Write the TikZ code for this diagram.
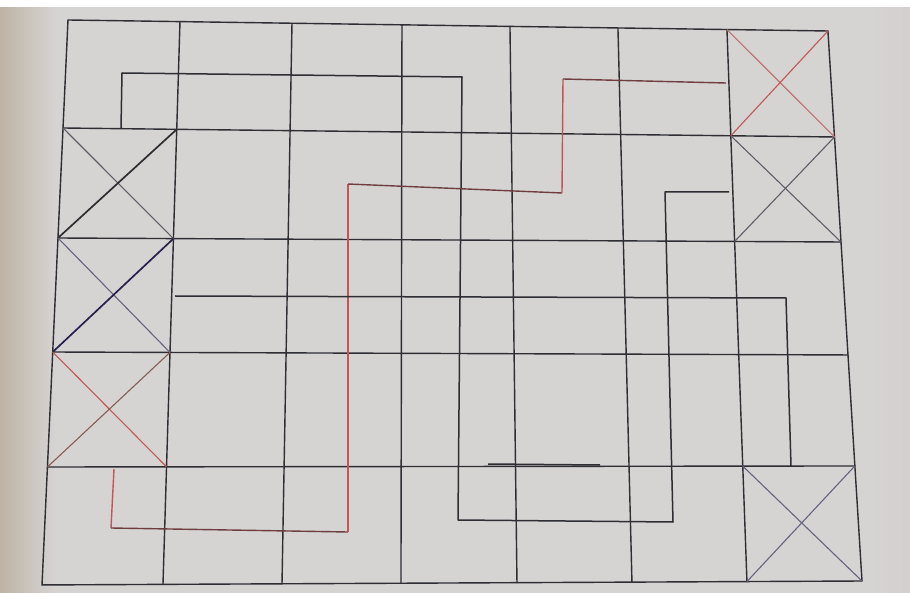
\documentclass[tikz,border=0pt]{standalone}
\usetikzlibrary{calc}
\definecolor{paper}{RGB}{214,211,211}
\definecolor{edgetone}{RGB}{190,180,165}
\definecolor{ink}{RGB}{45,45,50}
\definecolor{softink}{RGB}{95,95,104}
\definecolor{bluish}{RGB}{100,100,128}
\definecolor{navy}{RGB}{38,33,78}
\definecolor{redline}{RGB}{195,85,85}
\definecolor{darkred}{RGB}{110,62,62}
\definecolor{pinkred}{RGB}{190,115,110}
\definecolor{brownish}{RGB}{135,92,82}
\begin{document}
\begin{tikzpicture}[x=1pt,y=-1pt,
  grid/.style={draw=ink, line width=1.4pt, line cap=round},
  mazeline/.style={draw=ink, line width=1.5pt, line join=round},
  redpath/.style={draw=redline, line width=1.4pt},
  redhoriz/.style={draw=darkred, line width=1.4pt},
  thindiag/.style={line width=1.1pt},
  bolddiag/.style={line width=1.7pt}]
\useasboundingbox (0,0) rectangle (910,593);
\fill[paper] (0,0) rectangle (910,593);
\shade[left color=edgetone, right color=paper] (0,0) rectangle (55,593);
\shade[left color=paper, right color=paper!90!edgetone] (865,0) rectangle (910,593);
\fill[white] (0,0) rectangle (910,7);

% column and row guide lines
\foreach \i/\xt/\xb in {0/68/42,1/180/163,2/292/282,3/402/401,4/510/517,5/618/632,6/727/747,7/828/862}{
  \coordinate (T\i) at (\xt,{20+11*\i/7});
  \coordinate (B\i) at (\xb,{585-4*\i/7});
}
\foreach \j/\yl/\yr in {0/20/31,1/128/137,2/238/242,3/352/355,4/467/466,5/585/581}{
  \coordinate (L\j) at ({68-26*\j/5},\yl);
  \coordinate (R\j) at ({828+34*\j/5},\yr);
}
\foreach \i in {0,...,7}{
  \foreach \j in {0,...,5}{
    \coordinate (P\i-\j) at (intersection cs: first line={(T\i)--(B\i)}, second line={(L\j)--(R\j)});
  }
}

% grid
\foreach \j in {0,...,5} \draw[grid] (P0-\j) -- (P7-\j);
\foreach \i in {0,...,7} \draw[grid] (P\i-0) -- (P\i-5);

% crossed cells
\draw[thindiag, draw=pinkred] (P6-0) -- (P7-1);
\draw[thindiag, draw=redline] (P7-0) -- (P6-1);
\draw[thindiag, draw=softink] (P6-1) -- (P7-2);
\draw[thindiag, draw=softink] (P7-1) -- (P6-2);
\draw[thindiag, draw=softink] (P0-1) -- (P1-2);
\draw[bolddiag, draw=ink] (P0-2) -- (P1-1);
\draw[thindiag, draw=bluish] (P0-2) -- (P1-3);
\draw[bolddiag, draw=navy] (P0-3) -- (P1-2);
\draw[thindiag, draw=redline] (P0-3) -- (P1-4);
\draw[thindiag, draw=brownish] (P0-4) -- (P1-3);
\draw[thindiag, draw=bluish] (P6-4) -- (P7-5);
\draw[thindiag, draw=bluish] (P7-4) -- (P6-5);

% black maze path
\coordinate (a0) at (121,128);
\coordinate (a1) at (122,73);
\coordinate (a2) at (462,77);
\coordinate (a3) at (458,520);
\coordinate (a4) at (673,522);
\coordinate (a5) at (665,192);
\coordinate (a6) at (729,192);
\draw[mazeline] (a0) -- (a1) -- (a2) -- (a3) -- (a4) -- (a5) -- (a6);

% red maze path
\coordinate (b0) at (114,469);
\coordinate (b1) at (111,528);
\coordinate (b2) at (348,532);
\coordinate (b3) at (348,184);
\coordinate (b4) at (562,193);
\coordinate (b5) at (563,79);
\coordinate (b6) at (726,83);
\draw[redpath] (b0) -- (b1);
\draw[redhoriz] (b1) -- (b2);
\draw[redpath] (b2) -- (b3);
\draw[redhoriz] (b3) -- (b4);
\draw[redpath] (b4) -- (b5);
\draw[redhoriz] (b5) -- (b6);

% middle path
\coordinate (c0) at (175,296);
\coordinate (c1) at (786,298);
\coordinate (c2) at (791,466);
\draw[mazeline] (c0) -- (c1) -- (c2);

% short overlapping stroke
\coordinate (d0) at (488,464);
\coordinate (d1) at (600,465);
\draw[mazeline] (d0) -- (d1);
\end{tikzpicture}
\end{document}
